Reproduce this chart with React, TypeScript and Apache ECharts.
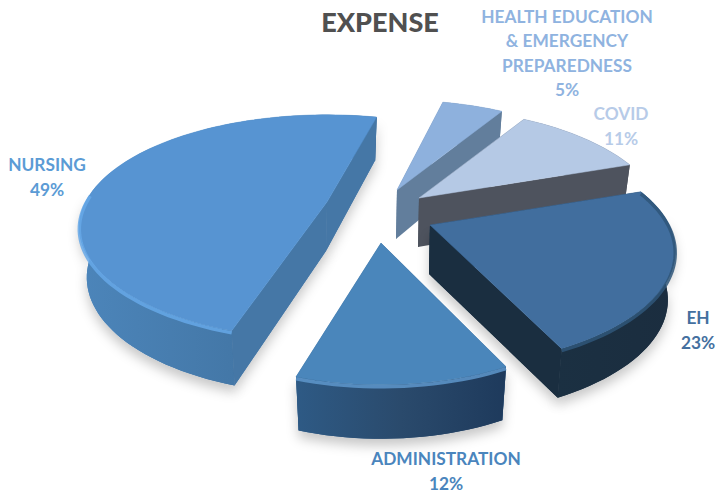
import React, { useEffect, useRef } from "react";
import * as echarts from "echarts";

const categories = ["HEALTH EDUCATION\n& EMERGENCY\nPREPAREDNESS", "COVID", "EH", "ADMINISTRATION", "NURSING"];
const shares = [5, 11, 23, 12, 49];

const topColors = ["#8EB1DD", "#B5C9E5", "#416E9E", "#4A86BB", "#5794D2"];
const cutColors = ["#627E9C", "#4E535E", "#1A2E40", "#2F5A85", "#4577A6"];
const wallStops = [
  ["#627E9C", "#627E9C"],
  ["#4E535E", "#4E535E"],
  ["#1B3042", "#1B2D3F"],
  ["#2E5A85", "#2A4A6C", "#1E3A5C"],
  ["#4C85BA", "#4478A8", "#3A6794"],
];
const rimColors = ["", "", "#2F5679", "#5E97CB", "#66A8E8"];
const rimFrom = [0, 0, -0.35, -0.1, -0.1];
const labelColors = ["#8FB3E0", "#B7CBE8", "#44709F", "#4A85BD", "#5B9BD5"];

const apexes = [[397, 190], [419, 198], [430, 225], [381, 243], [327, 202]];
const labelCenters = [[567, 53], [621, 126], [698, 330], [446, 471], [47, 177]];
const turn = [0, 0, 0, 0, 1];
const scaleX = [1, 1, 1, 0.95, 1.01];
const scaleY = [1, 1, 1, 1, 0.97];
const dropFront = [8, 8, 0, 5, 6];

const START_ANGLE = 13.5;
const SEMI_X = 239;
const SEMI_Y = 110;
const PERSPECTIVE = 0.224;

function rim(deg: number, i: number) {
  const t = ((deg + turn[i]) * Math.PI) / 180;
  const X = Math.sin(t);
  const Y = -Math.cos(t);
  const w = 1 / (1 - PERSPECTIVE * Y);
  return { x: SEMI_X * X * w * scaleX[i], y: SEMI_Y * Y * w * scaleY[i], d: Y };
}

function renderItem(params: any, api: any) {
  const i = params.dataIndex;
  const share = api.value(0);
  const before = shares.slice(0, i).reduce((a, b) => a + b, 0);
  const total = shares.reduce((a, b) => a + b, 0);
  const from = START_ANGLE + (before / total) * 360;
  const to = from + (share / total) * 360;
  const [ax, ay] = apexes[i];
  const n = Math.max(8, Math.round((to - from) / 2));
  const arc = Array.from({ length: n + 1 }, (_, k) => rim(from + ((to - from) * k) / n, i));
  const up = arc.map((p) => [ax + p.x, ay + p.y]);
  const down = arc.map((p) => [ax + p.x * 0.97, ay + p.y + 49 + dropFront[i] * p.d]);
  const apexDown = [ax - 1, ay + 49];
  const shadow = { shadowBlur: 12, shadowOffsetY: 7, shadowColor: "rgba(0,0,0,0.22)" };
  const stops = wallStops[i].map((color, k, all) => ({ offset: k / (all.length - 1), color }));
  const wallFill = new echarts.graphic.LinearGradient(0, 0, 1, 0, stops);
  const mid = arc[Math.floor(n / 2)];
  const faces = (k: number) => {
    let nx = arc[k].y;
    let ny = -arc[k].x;
    if (nx * mid.x + ny * mid.y > 0) {
      nx = -nx;
      ny = -ny;
    }
    return ny > 0;
  };
  const cut = (k: number, withShadow: boolean) => ({
    type: "polygon",
    shape: { points: [[ax, ay], up[k], down[k], apexDown] },
    style: { fill: cutColors[i], ...(withShadow ? shadow : {}) },
  });
  const frontIdx = arc.map((p, k) => (p.d > -0.1 ? k : -1)).filter((k) => k >= 0);
  const children: any[] = [];
  if (i >= 2 && frontIdx.length > 1) {
    children.push({
      type: "polygon",
      shape: { points: [...frontIdx.map((k) => up[k]), ...frontIdx.slice().reverse().map((k) => down[k])] },
      style: { fill: wallFill, ...shadow },
    });
  }
  [0, n].filter((k) => !faces(k)).forEach((k) => children.push(cut(k, false)));
  [0, n].filter((k) => faces(k) && i >= 2).forEach((k) => children.push(cut(k, true)));
  children.push({ type: "polygon", shape: { points: [...up, ...down.slice().reverse()] }, style: { fill: wallFill } });
  [0, n].filter((k) => faces(k)).forEach((k) => children.push(cut(k, false)));
  children.push({ type: "polygon", shape: { points: [[ax, ay], ...up] }, style: { fill: topColors[i], stroke: topColors[i], lineWidth: 0.5 } });
  if (rimColors[i]) {
    const front = arc.filter((p) => p.d > rimFrom[i]).map((p) => [ax + p.x, ay + p.y + 2]);
    if (front.length > 1) {
      children.push({ type: "polyline", shape: { points: front }, style: { stroke: rimColors[i], lineWidth: 3.5, fill: "none", opacity: 0.85 } });
    }
  }
  children.push({
    type: "text",
    x: labelCenters[i][0],
    y: labelCenters[i][1],
    style: {
      text: `${categories[i]}\n${share}%`,
      fill: labelColors[i],
      font: 'bold 17.3px Lato, "Open Sans", sans-serif',
      lineHeight: 24.4,
      align: "center",
      verticalAlign: "middle",
    },
  });
  return { type: "group", children };
}

export default function App() {
  const ref = useRef<HTMLDivElement>(null);
  useEffect(() => {
    const chart = echarts.init(ref.current as HTMLDivElement, undefined, { renderer: "svg" });
    chart.setOption({
      animation: false,
      backgroundColor: "#ffffff",
      title: {
        text: "EXPENSE",
        left: 375,
        top: 3,
        textAlign: "center",
        textStyle: { color: "#505050", fontSize: 27, fontWeight: 900, fontFamily: 'Lato, "Open Sans", sans-serif' },
      },
      series: [
        {
          type: "custom",
          coordinateSystem: "none",
          data: shares.map((v) => [v]),
          renderItem,
          silent: true,
        },
      ],
    });
    return () => chart.dispose();
  }, []);
  return <div ref={ref} style={{ position: "absolute", left: 0, top: 0, width: 717, height: 493 }} />;
}
